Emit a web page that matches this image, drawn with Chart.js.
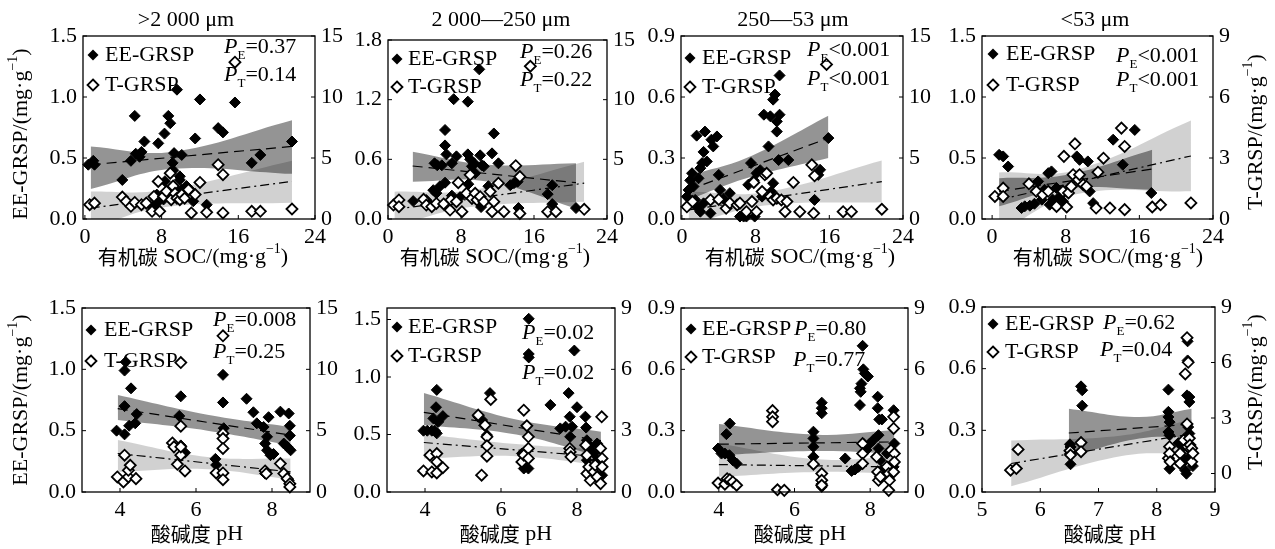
<!DOCTYPE html>
<html>
<head>
<meta charset="utf-8">
<script src="https://cdn.jsdelivr.net/npm/chart.js@4.4.1/dist/chart.umd.min.js"></script>
<style>
  body { margin: 0; background: #fff; width: 1275px; height: 549px; overflow: hidden; position: relative; }
  canvas { position: absolute; }
</style>
</head>
<body>
<script>
// ---- labels and ticks ----
const sizeClasses = ['>2 000 μm', '2 000—250 μm', '250—53 μm', '<53 μm'];
const pLabelsE = ['=0.37', '=0.26', '<0.001', '<0.001', '=0.008', '=0.02', '=0.80', '=0.62'];
const pLabelsT = ['=0.14', '=0.22', '<0.001', '<0.001', '=0.25', '=0.02', '=0.77', '=0.04'];
const socTicks = [0, 8, 16, 24];
const phTicks = [4, 6, 8];
const phTicks5to9 = [5, 6, 7, 8, 9];
const eeTicks15 = [0, 0.5, 1.0, 1.5];
const eeTicks18 = [0, 0.6, 1.2, 1.8];
const eeTicks09 = [0, 0.3, 0.6, 0.9];
const tTicks15 = [0, 5, 10, 15];
const tTicks9 = [0, 3, 6, 9];

// ---- SOC panels: [x, y] ; bands: [x, lower, upper] ----
const socEE1 = [[0.35,0.445],[0.87,0.477],[1.0,0.445],[3.9,0.32],[4.8,0.477],[5.2,0.845],[5.3,0.535],[5.7,0.51],[5.9,0.55],[6.2,0.635],[7.0,0.10],[7.5,0.13],[7.5,0.2],[7.65,0.62],[8.2,0.16],[8.3,0.70],[8.35,0.31],[8.7,0.845],[8.9,0.785],[8.9,0.21],[9.15,0.46],[9.2,0.40],[9.3,0.54],[9.6,1.06],[9.9,0.32],[9.9,0.35],[10.1,0.525],[10.1,0.24],[10.6,0.27],[11.1,0.23],[11.3,0.145],[11.5,0.66],[12.0,0.98],[12.7,0.117],[13.9,0.745],[14.4,0.71],[15.65,0.955],[17.4,0.46],[18.3,0.525],[21.6,0.635]];
const socT1 = [[0.5,1.17],[1.0,1.3],[3.9,1.8],[4.3,1.45],[4.8,1.04],[5.2,1.36],[5.9,1.17],[6.4,1.3],[7.0,0.63],[7.2,1.85],[7.65,3.08],[7.8,0.63],[8.2,1.85],[8.5,2.26],[8.9,3.76],[9.0,1.58],[9.2,2.7],[9.4,2.1],[9.6,1.7],[9.9,1.58],[10.1,2.0],[10.4,1.7],[10.8,2.4],[11.1,0.5],[11.5,2.0],[12.0,3.0],[12.7,0.55],[13.9,4.45],[14.4,3.63],[14.4,0.5],[15.65,12.85],[17.4,0.63],[18.3,0.63],[21.6,0.82]];
const socEEBand1 = [[0.6,0.245,0.595],[9,0.41,0.55],[21.6,0.37,0.81]];
const socTBand1 = [[0.6,-0.8,2.26],[8,0.95,2.35],[21.6,1.34,4.77]];
const socEELine1 = [[0.6,0.445],[21.6,0.595]];
const socTLine1 = [[0.6,0.9],[21.6,3.08]];

const socEE2 = [[2.76,0.18],[4.2,0.19],[4.96,0.29],[5.1,0.56],[5.3,0.26],[5.4,0.54],[5.7,0.33],[5.9,0.54],[6.25,0.365],[6.25,0.895],[6.25,0.74],[6.4,0.65],[7.0,0.56],[7.0,0.235],[7.2,1.205],[7.5,0.63],[7.9,0.22],[8.75,1.18],[8.75,0.65],[8.8,0.35],[9.0,0.60],[9.2,0.53],[9.45,0.56],[9.55,0.46],[10.0,1.505],[10.1,0.64],[10.2,0.12],[10.3,0.54],[10.5,0.53],[11.0,0.33],[11.4,0.66],[11.6,0.86],[12.1,0.56],[13.4,0.34],[13.8,0.36],[14.2,0.375],[14.3,0.11],[17.5,0.25],[18.0,0.34],[18.0,0.15],[20.6,0.11]];
const socT2 = [[0.6,1.17],[1.2,1.6],[1.2,1.03],[3.9,1.65],[4.2,1.17],[4.8,1.03],[5.3,1.3],[6.1,1.26],[6.8,0.75],[6.9,1.6],[7.5,1.45],[7.7,3.04],[8.1,0.61],[8.6,2.15],[9.0,3.7],[9.2,1.73],[9.55,2.15],[9.75,1.6],[10.1,1.87],[10.5,1.45],[11.2,2.3],[11.4,0.61],[11.6,1.45],[12.1,3.0],[12.7,0.61],[14.0,4.47],[14.45,3.55],[14.45,0.47],[15.6,12.8],[17.5,0.61],[18.4,0.61],[21.5,0.81]];
const socEEBand2 = [[2.7,0.375,0.677],[11,0.375,0.545],[20.6,0.107,0.56]];
const socTBand2 = [[0.7,-0.6,2.29],[9,1.0,2.4],[21.5,1.45,4.8]];
const socEELine2 = [[2.7,0.533],[20.6,0.365]];
const socTLine2 = [[0.7,0.8],[21.5,3.0]];

const socEE3 = [[0.54,0.11],[0.72,0.143],[0.9,0.19],[1.1,0.225],[1.26,0.16],[1.44,0.094],[1.6,0.41],[1.6,0.06],[1.8,0.2],[2.0,0.25],[2.0,0.036],[2.2,0.275],[2.35,0.33],[2.35,0.077],[2.5,0.43],[2.7,0.283],[3.1,0.028],[3.2,0.39],[3.4,0.357],[3.8,0.406],[4.0,0.217],[4.15,0.143],[4.5,0.10],[5.2,0.127],[6.3,0.012],[6.7,0.012],[7.0,0.012],[7.2,0.168],[7.5,0.275],[7.8,0.19],[7.9,0.012],[8.1,0.225],[8.5,0.24],[8.7,0.11],[8.9,0.513],[9.4,0.357],[9.6,0.505],[9.7,0.135],[9.9,0.587],[9.9,0.176],[10.1,0.612],[10.3,0.48],[10.3,0.43],[10.5,0.29],[10.6,0.513],[10.6,0.706],[11.55,0.29],[14.4,0.094],[14.8,0.217],[15.0,0.242],[15.9,0.398]];
const socT3 = [[0.54,1.0],[1.15,1.43],[3.1,1.56],[4.0,1.6],[4.8,0.88],[5.2,1.3],[6.0,1.15],[6.3,1.3],[7.0,0.6],[7.6,1.43],[7.8,3.0],[8.1,0.6],[8.7,2.25],[9.0,3.62],[9.2,3.75],[9.6,1.84],[9.9,1.56],[10.3,1.7],[10.8,1.56],[11.2,0.6],[11.4,1.43],[12.1,3.0],[12.8,0.6],[14.1,4.44],[14.3,0.47],[14.4,3.54],[15.7,12.67],[17.5,0.6],[18.4,0.6],[21.7,0.8]];
const socEEBand3 = [[0.72,0.094,0.214],[7,0.2,0.3],[15.9,0.30,0.508]];
const socTBand3 = [[0.72,-0.5,2.25],[9,1.1,2.2],[21.7,1.37,4.8]];
const socEELine3 = [[0.72,0.143],[15.9,0.398]];
const socTLine3 = [[0.72,0.74],[21.7,3.07]];

const socEE4 = [[0.76,0.526],[1.2,0.513],[1.74,0.43],[3.2,0.09],[3.55,0.104],[4.1,0.109],[4.6,0.125],[5.0,0.308],[5.4,0.158],[5.7,0.24],[6.1,0.376],[6.25,0.117],[6.45,0.39],[6.6,0.158],[7.0,0.254],[7.35,0.185],[7.7,0.145],[9.2,0.513],[9.5,0.485],[10.4,0.472],[10.6,0.226],[10.98,0.13],[13.15,0.65],[14.2,0.445],[15.5,0.73],[17.3,0.213]];
const socT4 = [[0.3,1.11],[1.2,1.52],[1.2,1.11],[4.0,1.73],[4.8,1.36],[5.5,1.19],[6.1,1.36],[7.0,0.62],[7.7,1.36],[7.8,3.08],[8.1,0.59],[8.3,1.28],[8.6,1.6],[8.8,2.18],[9.0,3.7],[9.35,1.93],[9.5,2.18],[9.9,1.69],[10.25,1.6],[11.3,0.54],[11.5,2.3],[12.1,2.99],[12.8,0.54],[14.05,4.47],[14.4,3.57],[14.4,0.46],[17.4,0.59],[18.3,0.7],[21.6,0.79]];
const socEEBand4 = [[0.76,0.104,0.335],[8,0.25,0.36],[17.4,0.24,0.567]];
const socTBand4 = [[0.76,-0.69,2.29],[9,1.2,2.4],[21.6,1.36,4.84]];
const socEELine4 = [[0.76,0.226],[17.4,0.41]];
const socTLine4 = [[0.76,0.95],[21.6,3.1]];

// ---- pH panels ----
const phEE1 = [[3.91,0.5],[4.12,0.70],[4.12,0.47],[4.12,0.99],[4.15,1.06],[4.24,0.54],[4.29,0.845],[4.4,0.56],[4.44,0.635],[5.56,0.62],[5.6,0.78],[5.6,0.38],[5.71,0.32],[6.51,0.27],[6.53,0.22],[6.53,0.16],[6.71,0.955],[6.71,0.73],[6.73,0.52],[7.33,0.76],[7.51,0.65],[7.6,0.56],[7.78,0.53],[7.82,0.395],[7.82,0.15],[7.87,0.45],[7.87,0.34],[7.91,0.61],[7.96,0.30],[8.04,0.31],[8.22,0.655],[8.31,0.395],[8.4,0.37],[8.44,0.64],[8.44,0.095],[8.47,0.54],[8.47,0.46],[8.49,0.34]];
const phT1 = [[3.93,1.23],[4.09,0.82],[4.12,3.0],[4.22,1.23],[4.22,1.77],[4.27,2.18],[4.42,1.09],[5.38,4.0],[5.42,3.68],[5.51,2.26],[5.6,10.55],[5.6,3.0],[5.6,5.37],[5.6,3.68],[5.71,1.72],[6.53,1.55],[6.71,12.73],[6.71,4.77],[6.71,4.36],[6.71,3.55],[6.71,1.55],[6.71,1.0],[7.82,1.72],[7.85,1.5],[8.22,2.32],[8.31,1.5],[8.4,1.09],[8.47,0.68],[8.47,0.41]];
const phEEBand1 = [[3.94,0.586,0.79],[6.3,0.5,0.63],[8.49,0.38,0.53]];
const phTBand1 = [[3.94,1.64,4.23],[6.3,1.85,2.85],[8.49,1.0,2.73]];
const phEELine1 = [[3.94,0.68],[8.49,0.464]];
const phTLine1 = [[3.94,3.14],[8.49,1.64]];

const phEE2 = [[3.96,0.533],[4.06,0.533],[4.18,0.533],[4.22,0.64],[4.26,0.533],[4.29,0.737],[4.31,0.888],[4.31,0.51],[4.35,0.61],[4.47,0.66],[5.4,0.655],[5.5,0.626],[5.56,0.58],[5.63,0.495],[5.71,0.86],[6.55,0.335],[6.6,0.262],[6.6,0.204],[6.68,0.277],[6.72,0.204],[6.73,1.506],[6.73,1.2],[6.73,1.17],[7.3,0.757],[7.56,0.553],[7.7,0.568],[7.78,0.86],[7.81,0.655],[7.82,0.48],[7.87,0.568],[7.93,1.23],[8.0,0.737],[8.22,0.655],[8.24,0.56],[8.26,0.45],[8.26,0.277],[8.35,0.393],[8.44,0.335],[8.53,0.422],[8.53,0.277],[8.62,0.233],[8.66,0.146]];
const phT2 = [[3.96,1.03],[4.13,1.8],[4.18,0.98],[4.31,1.88],[4.31,1.47],[4.31,0.93],[4.47,1.19],[5.4,3.76],[5.49,0.82],[5.58,3.27],[5.63,2.7],[5.63,2.26],[5.63,1.75],[5.73,4.53],[6.55,1.47],[6.6,4.0],[6.6,1.8],[6.68,3.24],[6.72,2.7],[6.72,2.13],[6.72,1.64],[7.81,2.13],[7.82,1.96],[7.84,1.72],[8.23,2.29],[8.26,1.8],[8.26,0.9],[8.31,1.23],[8.35,0.57],[8.44,0.98],[8.48,1.31],[8.53,0.74],[8.62,2.13],[8.62,0.41],[8.65,3.68],[8.66,1.64],[8.66,1.23]];
const phEEBand2 = [[3.97,0.583,0.86],[6.4,0.5,0.63],[8.63,0.306,0.524]];
const phTBand2 = [[3.97,1.64,2.83],[6.4,1.75,2.35],[8.63,1.31,2.08]];
const phEELine2 = [[3.97,0.693],[8.63,0.446]];
const phTLine2 = [[3.97,2.42],[8.63,1.72]];

const phEE3 = [[3.98,0.213],[4.07,0.188],[4.16,0.188],[4.2,0.283],[4.28,0.18],[4.29,0.335],[4.37,0.155],[4.47,0.139],[6.5,0.295],[6.5,0.262],[6.5,0.221],[6.5,0.172],[6.72,0.437],[6.72,0.41],[6.72,0.385],[6.72,0.04],[6.72,0.025],[7.34,0.164],[7.51,0.103],[7.6,0.11],[7.69,0.123],[7.73,0.425],[7.73,0.507],[7.75,0.49],[7.77,0.53],[7.8,0.715],[7.82,0.6],[7.82,0.237],[7.86,0.58],[7.9,0.205],[7.94,0.565],[7.99,0.237],[8.08,0.254],[8.2,0.466],[8.2,0.41],[8.22,0.278],[8.22,0.213],[8.24,0.355],[8.27,0.155],[8.31,0.355],[8.31,0.106],[8.44,0.188],[8.49,0.065],[8.57,0.09],[8.62,0.40],[8.62,0.123],[8.64,0.237]];
const phT3 = [[3.98,0.44],[4.16,0.38],[4.22,0.65],[4.29,0.6],[4.37,0.49],[4.47,0.33],[5.42,3.98],[5.42,3.68],[5.42,3.44],[5.55,0.11],[5.73,0.08],[6.5,1.36],[6.72,0.9],[6.72,0.57],[6.72,0.33],[7.8,2.37],[7.8,1.88],[7.8,1.39],[8.17,1.72],[8.2,0.98],[8.22,0.57],[8.27,0.74],[8.44,1.23],[8.49,0.9],[8.51,0.57],[8.49,0.08],[8.55,2.05],[8.62,3.68],[8.62,3.11],[8.62,0.98],[8.64,1.88],[8.64,1.47]];
const phEEBand3 = [[4.0,0.18,0.332],[6.6,0.2,0.28],[8.64,0.188,0.303]];
const phTBand3 = [[4.0,0.74,2.37],[6.6,0.98,1.6],[8.64,0.9,1.72]];
const phEELine3 = [[4.0,0.234],[8.64,0.245]];
const phTLine3 = [[4.0,1.34],[8.64,1.23]];

const phEE4 = [[6.51,0.232],[6.52,0.219],[6.51,0.186],[6.52,0.135],[6.7,0.514],[6.72,0.495],[6.72,0.42],[8.2,0.498],[8.2,0.39],[8.2,0.365],[8.22,0.34],[8.2,0.292],[8.22,0.276],[8.22,0.113],[8.37,0.238],[8.4,0.186],[8.46,0.222],[8.49,0.154],[8.49,0.105],[8.51,0.089],[8.52,0.47],[8.53,0.64],[8.53,0.733],[8.54,0.316],[8.56,0.462],[8.56,0.438],[8.56,0.284],[8.57,0.219],[8.58,0.178],[8.62,0.126]];
const phT4 = [[5.49,0.18],[5.59,0.27],[5.62,1.3],[6.51,1.23],[6.52,1.0],[6.7,1.67],[6.7,1.18],[8.2,0.82],[8.22,1.45],[8.22,1.09],[8.23,0.63],[8.4,1.09],[8.4,0.54],[8.46,1.81],[8.49,5.38],[8.52,7.34],[8.52,2.68],[8.53,1.45],[8.54,6.01],[8.56,1.9],[8.57,1.54],[8.6,1.36],[8.6,0.63],[8.62,1.09]];
const phEEBand4 = [[6.49,0.17,0.405],[7.7,0.26,0.365],[8.6,0.268,0.405]];
const phTBand4 = [[5.5,-0.69,1.78],[7.4,0.95,2.05],[8.6,1.09,2.93]];
const phEELine4 = [[6.49,0.287],[8.6,0.33]];
const phTLine4 = [[5.5,0.54],[8.6,2.14]];

// ---- layout ----
const SERIF = '"Liberation Serif", "Times New Roman", serif';
const CJK = '"Noto Sans CJK SC", sans-serif';
const F = s => s + 'px ' + SERIF;
const FI = s => 'italic ' + s + 'px ' + SERIF;
const L = 80, R = 60, T = 40, B = 60;

const socTitle = [{ t: '有机碳', f: '20px ' + CJK }, { t: ' SOC/(mg·g', f: F(22) }, { t: '−1', f: F(14), dy: -8 }, { t: ')', f: F(22) }];
const phTitle = [{ t: '酸碱度', f: '20px ' + CJK }, { t: ' pH', f: F(22) }];
const eeAxisTitle = [{ t: 'EE-GRSP/(mg·g', f: F(22) }, { t: '−1', f: F(14), dy: -8 }, { t: ')', f: F(22) }];
const tAxisTitle = [{ t: 'T-GRSP/(mg·g', f: F(22) }, { t: '−1', f: F(14), dy: -8 }, { t: ')', f: F(22) }];

const panels = [
  { rect: [83, 36, 315, 219], x: [-0.2, 24], xt: socTicks, y: [0, 1.5], yt: eeTicks15, y2: [0, 15], y2t: tTicks15,
    ee: socEE1, t: socT1, eeBand: socEEBand1, tBand: socTBand1, eeLine: socEELine1, tLine: socTLine1,
    title: sizeClasses[0], titleX: 186, xTitle: socTitle, xTitleX: 193, xTitleY: 257, yTitle: [21.7, 134],
    leg: [10, 19, 49, 22], pe: [141, 11], pt: [141, 39] },
  { rect: [388, 40, 607, 219], x: [0, 24], xt: socTicks, y: [0, 1.8], yt: eeTicks18, y2: [0, 15], y2t: tTicks15,
    ee: socEE2, t: socT2, eeBand: socEEBand2, tBand: socTBand2, eeLine: socEELine2, tLine: socTLine2,
    title: sizeClasses[1], titleX: 501, xTitle: socTitle, xTitleX: 495, xTitleY: 257,
    leg: [9, 19, 47, 20], pe: [132, 12], pt: [132, 40] },
  { rect: [681, 36, 903, 219], x: [-0.1, 24], xt: socTicks, y: [0, 0.9], yt: eeTicks09, y2: [0, 15], y2t: tTicks15,
    ee: socEE3, t: socT3, eeBand: socEEBand3, tBand: socTBand3, eeLine: socEELine3, tLine: socTLine3,
    title: sizeClasses[2], titleX: 793, xTitle: socTitle, xTitleX: 800, xTitleY: 257,
    leg: [9, 22, 51, 21], pe: [126, 14], pt: [126, 43] },
  { rect: [982, 36, 1213, 219], x: [-1.1, 24], xt: socTicks, y: [0, 1.5], yt: eeTicks15, y2: [0, 9], y2t: tTicks9,
    ee: socEE4, t: socT4, eeBand: socEEBand4, tBand: socTBand4, eeLine: socEELine4, tLine: socTLine4,
    title: sizeClasses[3], titleX: 1095, xTitle: socTitle, xTitleX: 1108, xTitleY: 257, y2Title: [1256.7, 132],
    leg: [11, 18, 49, 24], pe: [134, 20], pt: [134, 44] },
  { rect: [82, 308, 310, 492], x: [3, 9], xt: phTicks, y: [0, 1.5], yt: eeTicks15, y2: [0, 15], y2t: tTicks15,
    ee: phEE1, t: phT1, eeBand: phEEBand1, tBand: phTBand1, eeLine: phEELine1, tLine: phTLine1,
    xTitle: phTitle, xTitleX: 197, xTitleY: 534, yTitle: [21.7, 400],
    leg: [9, 22, 53, 22], pe: [131, 12], pt: [131, 44] },
  { rect: [387, 308, 615, 492], x: [3, 9], xt: phTicks, y: [0, 1.6], yt: eeTicks15, y2: [0, 9], y2t: tTicks9,
    ee: phEE2, t: phT2, eeBand: phEEBand2, tBand: phTBand2, eeLine: phEELine2, tLine: phTLine2,
    xTitle: phTitle, xTitleX: 506, xTitleY: 534,
    leg: [10, 19, 48, 21], pe: [135, 25], pt: [135, 65] },
  { rect: [681, 308, 908, 492], x: [3, 9], xt: phTicks, y: [0, 0.9], yt: eeTicks09, y2: [0, 9], y2t: tTicks9,
    ee: phEE3, t: phT3, eeBand: phEEBand3, tBand: phTBand3, eeLine: phEELine3, tLine: phTLine3,
    xTitle: phTitle, xTitleX: 800, xTitleY: 534,
    leg: [10, 21, 49, 21], pe: [113, 21], pt: [112, 52] },
  { rect: [982, 307, 1215, 492], x: [5, 9], xt: phTicks5to9, y: [0, 0.9], yt: eeTicks09, y2: [-1, 9], y2t: tTicks9,
    ee: phEE4, t: phT4, eeBand: phEEBand4, tBand: phTBand4, eeLine: phEELine4, tLine: phTLine4,
    xTitle: phTitle, xTitleX: 1110, xTitleY: 534, y2Title: [1256.7, 392],
    leg: [11, 17, 45, 23], pe: [121, 16], pt: [118, 43] }
];

// ---- drawing helpers ----
function drawRich(ctx, x, y, parts, align) {
  let w = 0;
  parts.forEach(p => { ctx.font = p.f; p.w = ctx.measureText(p.t).width; w += p.w; });
  let cx = align === 'center' ? x - w / 2 : x;
  parts.forEach(p => { ctx.font = p.f; ctx.fillText(p.t, cx, y + (p.dy || 0)); cx += p.w; });
}

function diamond(ctx, x, y, r, filled) {
  ctx.beginPath();
  ctx.moveTo(x, y - r); ctx.lineTo(x + r, y); ctx.lineTo(x, y + r); ctx.lineTo(x - r, y);
  ctx.closePath();
  if (filled) { ctx.fillStyle = '#000'; ctx.fill(); }
  else { ctx.fillStyle = '#fff'; ctx.fill(); ctx.lineWidth = 1.8; ctx.strokeStyle = '#000'; ctx.stroke(); }
}

function decor(p, i) {
  return {
    id: 'decor' + i,
    afterDraw(chart) {
      const { ctx, chartArea: a, scales } = chart;
      const ox = p.rect[0] - L, oy = p.rect[1] - T;
      ctx.save();
      ctx.strokeStyle = '#000';
      ctx.lineWidth = 1.3;
      ctx.strokeRect(a.left, a.top, a.right - a.left, a.bottom - a.top);
      ctx.lineWidth = 1;
      ctx.beginPath();
      p.xt.forEach(v => { const px = scales.x.getPixelForValue(v); ctx.moveTo(px, a.bottom); ctx.lineTo(px, a.bottom - 4); });
      p.yt.forEach(v => { const py = scales.y.getPixelForValue(v); ctx.moveTo(a.left, py); ctx.lineTo(a.left + 4, py); });
      p.y2t.forEach(v => { const py = scales.y2.getPixelForValue(v); ctx.moveTo(a.right, py); ctx.lineTo(a.right - 4, py); });
      ctx.stroke();

      ctx.textBaseline = 'middle';
      // legend
      const [mx, eeY, tY, tx] = p.leg;
      diamond(ctx, a.left + mx, a.top + eeY, 5.5, true);
      diamond(ctx, a.left + mx, a.top + tY, 5.5, false);
      ctx.fillStyle = '#000';
      drawRich(ctx, a.left + tx, a.top + eeY, [{ t: 'EE-GRSP', f: F(22) }]);
      drawRich(ctx, a.left + tx, a.top + tY, [{ t: 'T-GRSP', f: F(22) }]);
      // P values
      drawRich(ctx, a.left + p.pe[0], a.top + p.pe[1], [{ t: 'P', f: FI(22) }, { t: 'E', f: F(13), dy: 9 }, { t: pLabelsE[i], f: F(22) }]);
      drawRich(ctx, a.left + p.pt[0], a.top + p.pt[1], [{ t: 'P', f: FI(22) }, { t: 'T', f: F(13), dy: 9 }, { t: pLabelsT[i], f: F(22) }]);
      // titles
      if (p.title) drawRich(ctx, p.titleX - ox, 20 - oy, [{ t: p.title, f: F(22) }], 'center');
      drawRich(ctx, p.xTitleX - ox, p.xTitleY - oy, p.xTitle, 'center');
      if (p.yTitle) {
        ctx.save(); ctx.translate(p.yTitle[0] - ox, p.yTitle[1] - oy); ctx.rotate(-Math.PI / 2);
        drawRich(ctx, 0, 0, eeAxisTitle, 'center'); ctx.restore();
      }
      if (p.y2Title) {
        ctx.save(); ctx.translate(p.y2Title[0] - ox, p.y2Title[1] - oy); ctx.rotate(-Math.PI / 2);
        drawRich(ctx, 0, 0, tAxisTitle, 'center'); ctx.restore();
      }
      ctx.restore();
    }
  };
}

const xy = arr => arr.map(r => ({ x: r[0], y: r[1] }));
const bandEdge = (arr, k) => arr.map(r => ({ x: r[0], y: r[k] }));
const tickFont = { family: SERIF, size: 22 };
const fixTicks = list => s => { s.ticks = list.map(v => ({ value: v })); };

panels.forEach((p, i) => {
  const w = p.rect[2] - p.rect[0] + L + R;
  const h = p.rect[3] - p.rect[1] + T + B;
  const cv = document.createElement('canvas');
  cv.width = w; cv.height = h;
  cv.style.left = (p.rect[0] - L) + 'px';
  cv.style.top = (p.rect[1] - T) + 'px';
  cv.style.width = w + 'px'; cv.style.height = h + 'px';
  document.body.appendChild(cv);

  const edge = { type: 'line', pointRadius: 0, borderWidth: 0, borderColor: 'rgba(0,0,0,0)', tension: 0.4 };
  new Chart(cv, {
    type: 'scatter',
    data: {
      datasets: [
        { label: 'T-GRSP', data: xy(p.t), yAxisID: 'y2', order: 0, clip: false,
          pointStyle: 'rectRot', pointRadius: 5.5, pointBackgroundColor: '#fff', pointBorderColor: '#000', pointBorderWidth: 1.8 },
        { label: 'EE-GRSP', data: xy(p.ee), yAxisID: 'y', order: 1, clip: false,
          pointStyle: 'rectRot', pointRadius: 5.5, pointBackgroundColor: '#000', pointBorderColor: '#000', pointBorderWidth: 1 },
        { type: 'line', data: xy(p.tLine), yAxisID: 'y2', order: 2, pointRadius: 0, borderColor: '#000', borderWidth: 1.2, borderDash: [9, 4, 2, 4], fill: false },
        { type: 'line', data: xy(p.eeLine), yAxisID: 'y', order: 3, pointRadius: 0, borderColor: '#000', borderWidth: 1.2, borderDash: [10, 6], fill: false },
        Object.assign({}, edge, { data: bandEdge(p.eeBand, 1), yAxisID: 'y', order: 4, fill: false }),
        Object.assign({}, edge, { data: bandEdge(p.eeBand, 2), yAxisID: 'y', order: 5, fill: '-1', backgroundColor: 'rgba(0,0,0,0.42)' }),
        Object.assign({}, edge, { data: bandEdge(p.tBand, 1), yAxisID: 'y2', order: 6, fill: false }),
        Object.assign({}, edge, { data: bandEdge(p.tBand, 2), yAxisID: 'y2', order: 7, fill: '-1', backgroundColor: 'rgba(0,0,0,0.18)' })
      ]
    },
    options: {
      responsive: false,
      animation: false,
      devicePixelRatio: 1,
      events: [],
      layout: { padding: { top: T, left: 0, right: 0, bottom: 0 } },
      plugins: { legend: { display: false }, tooltip: { enabled: false }, title: { display: false } },
      scales: {
        x: {
          type: 'linear', min: p.x[0], max: p.x[1],
          afterBuildTicks: fixTicks(p.xt),
          afterFit: s => { s.height = B; },
          grid: { display: false, drawTicks: false }, border: { display: false },
          ticks: { font: tickFont, color: '#000', padding: 5, autoSkip: false, maxRotation: 0, callback: v => String(v) }
        },
        y: {
          type: 'linear', position: 'left', min: p.y[0], max: p.y[1],
          afterBuildTicks: fixTicks(p.yt),
          afterFit: s => { s.width = L; },
          grid: { display: false, drawTicks: false }, border: { display: false },
          ticks: { font: tickFont, color: '#000', padding: 6, autoSkip: false, callback: v => v.toFixed(1) }
        },
        y2: {
          type: 'linear', position: 'right', min: p.y2[0], max: p.y2[1],
          afterBuildTicks: fixTicks(p.y2t),
          afterFit: s => { s.width = R; },
          grid: { display: false, drawTicks: false }, border: { display: false },
          ticks: { font: tickFont, color: '#000', padding: 6, autoSkip: false, callback: v => String(v) }
        }
      }
    },
    plugins: [decor(p, i)]
  });
});
</script>
</body>
</html>
